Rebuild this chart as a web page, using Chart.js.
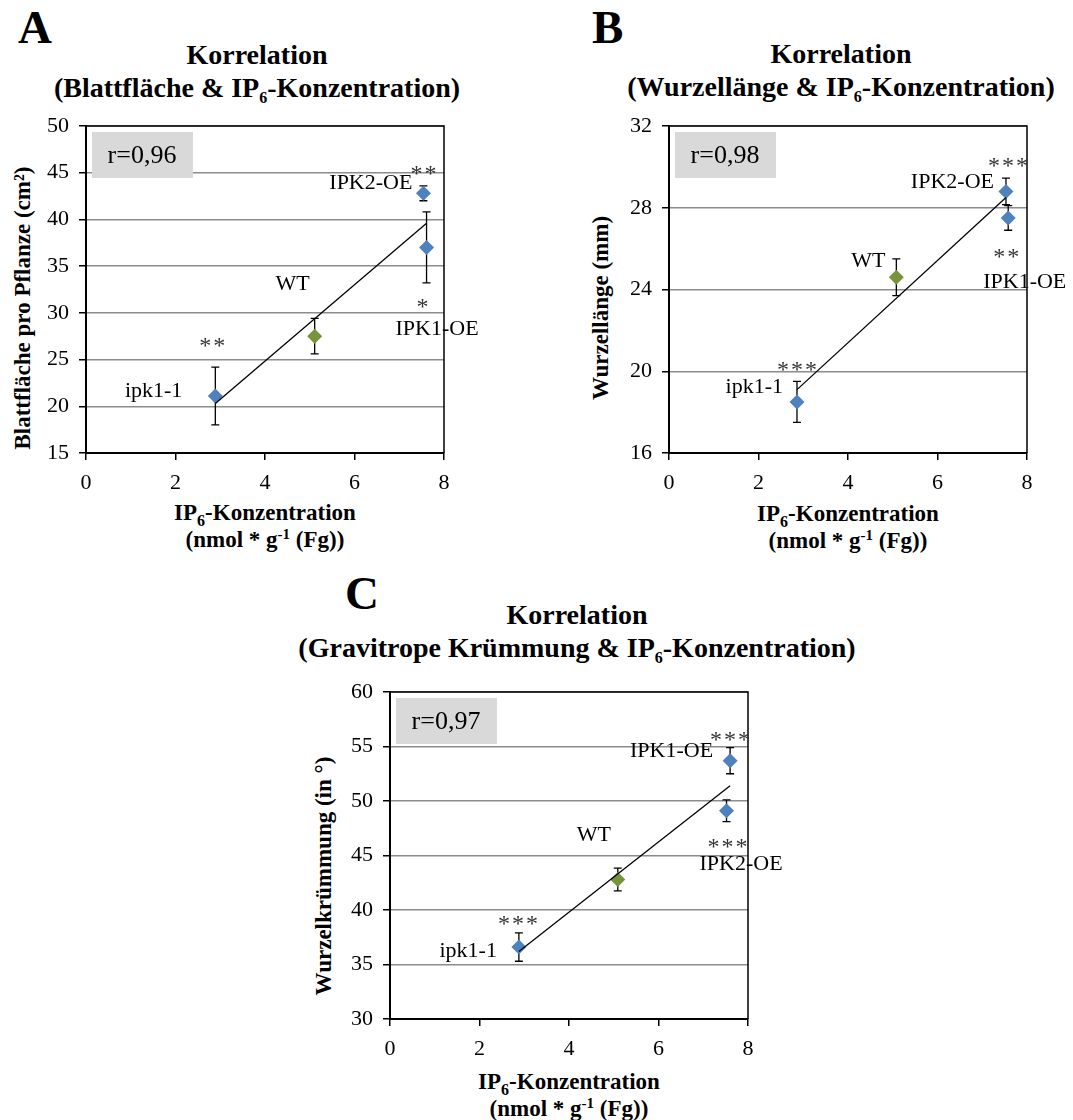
<!DOCTYPE html>
<html>
<head>
<meta charset="utf-8">
<script src="https://cdn.jsdelivr.net/npm/chart.js@4.4.0/dist/chart.umd.min.js"></script>
<style>
	body { margin: 0; background: #fff; }
	#page { position: relative; width: 1073px; height: 1120px; font-family: "Liberation Serif", "Times New Roman", serif; color: #000; }
	canvas { position: absolute; }
	.t { position: absolute; white-space: nowrap; font-weight: bold; }
	.title { font-size: 28px; line-height: 33px; text-align: center; transform: translateX(-50%); }
	.letter { font-size: 47px; line-height: 47px; }
	.xt { font-size: 23px; line-height: 25px; text-align: center; transform: translateX(-50%); }
	.yt { font-size: 23px; line-height: 23px; transform: translate(-50%, -50%) rotate(-90deg); }
	.sb { font-size: 16px; position: relative; top: 6px; }
	.sp { font-size: 15px; position: relative; top: -8px; }
</style>
</head>
<body>
<div id="page">
	<div class="t letter" style="left:18px;top:4px;">A</div>
	<div class="t letter" style="left:592px;top:4px;">B</div>
	<div class="t letter" style="left:345px;top:570px;">C</div>

	<div class="t title" style="left:257px;top:38px;">Korrelation<br>(Blattfläche &amp; IP<span class="sb">6</span>-Konzentration)</div>
	<div class="t title" style="left:841px;top:37px;">Korrelation<br>(Wurzellänge &amp; IP<span class="sb">6</span>-Konzentration)</div>
	<div class="t title" style="left:577px;top:598px;">Korrelation<br>(Gravitrope Krümmung &amp; IP<span class="sb">6</span>-Konzentration)</div>

	<div class="t yt" style="left:22px;top:308px;">Blattfläche pro Pflanze (cm²)</div>
	<div class="t yt" style="left:600px;top:308px;">Wurzellänge (mm)</div>
	<div class="t yt" style="left:323px;top:876px;">Wurzelkrümmung (in °)</div>

	<div class="t xt" style="left:265px;top:500px;">IP<span class="sb">6</span>-Konzentration<br>(nmol * g<span class="sp">-1</span> (Fg))</div>
	<div class="t xt" style="left:848px;top:501px;">IP<span class="sb">6</span>-Konzentration<br>(nmol * g<span class="sp">-1</span> (Fg))</div>
	<div class="t xt" style="left:569px;top:1069px;">IP<span class="sb">6</span>-Konzentration<br>(nmol * g<span class="sp">-1</span> (Fg))</div>

	<canvas id="chartA" width="500" height="400" style="left:0px;top:100px;"></canvas>
	<canvas id="chartB" width="490" height="400" style="left:583px;top:100px;"></canvas>
	<canvas id="chartC" width="500" height="400" style="left:304px;top:666px;"></canvas>
</div>

<script>
// Linien (gleiche Reihenfolge in allen Arrays)
const linienA = ['ipk1-1', 'WT', 'IPK2-OE', 'IPK1-OE'];
const ip6A = [2.89, 5.11, 7.54, 7.61];
const blattflaeche = [21.1, 27.5, 42.8, 37.0];
const blattflaecheSd = [3.1, 1.9, 0.8, 3.8];
const sternA = ['**', '', '**', '*'];
const trendA = [{ x: 2.89, y: 20.3 }, { x: 7.61, y: 39.6 }];

const linienB = ['ipk1-1', 'WT', 'IPK2-OE', 'IPK1-OE'];
const ip6B = [2.86, 5.08, 7.53, 7.58];
const wurzellaenge = [18.5, 24.6, 28.8, 27.5];
const wurzellaengeSd = [1.0, 0.9, 0.65, 0.6];
const sternB = ['***', '', '***', '**'];
const trendB = [{ x: 2.86, y: 19.1 }, { x: 7.53, y: 28.5 }];

const linienC = ['ipk1-1', 'WT', 'IPK1-OE', 'IPK2-OE'];
const ip6C = [2.88, 5.09, 7.6, 7.52];
const kruemmung = [36.6, 42.8, 53.7, 49.1];
const kruemmungSd = [1.3, 1.05, 1.2, 1.0];
const sternC = ['***', '', '***', '***'];
const trendC = [{ x: 2.88, y: 36.2 }, { x: 7.6, y: 51.4 }];

const xTicks = [0, 2, 4, 6, 8];
const yTicksA = [15, 20, 25, 30, 35, 40, 45, 50];
const yTicksB = [16, 20, 24, 28, 32];
const yTicksC = [30, 35, 40, 45, 50, 55, 60];

const serif = '"Liberation Serif", "Times New Roman", serif';

const makeChart = (id, cfg) => {
	const pts = cfg.x.map((x, i) => ({ x: x, y: cfg.y[i], sd: cfg.sd[i], name: cfg.names[i], stars: cfg.stars[i], lab: cfg.lab[i] }));

	const extras = {
		id: 'extras',
		beforeDatasetsDraw(chart) {
			const ctx = chart.ctx;
			const sx = chart.scales.x, sy = chart.scales.y;
			ctx.save();
			ctx.strokeStyle = '#000';
			ctx.lineWidth = 1.3;
			pts.forEach(p => {
				const px = sx.getPixelForValue(p.x);
				const top = sy.getPixelForValue(p.y + p.sd);
				const bot = sy.getPixelForValue(p.y - p.sd);
				ctx.beginPath();
				ctx.moveTo(px, top); ctx.lineTo(px, bot);
				ctx.moveTo(px - 4, top); ctx.lineTo(px + 4, top);
				ctx.moveTo(px - 4, bot); ctx.lineTo(px + 4, bot);
				ctx.stroke();
			});
			ctx.restore();
		},
		afterDraw(chart) {
			const ctx = chart.ctx;
			const a = chart.chartArea;
			const sx = chart.scales.x, sy = chart.scales.y;
			ctx.save();
			// Rahmen oben / rechts
			ctx.strokeStyle = '#000';
			ctx.lineWidth = 1.5;
			ctx.beginPath();
			ctx.moveTo(a.left, a.top); ctx.lineTo(a.right, a.top); ctx.lineTo(a.right, a.bottom);
			ctx.stroke();
			// r-Kasten
			ctx.fillStyle = '#d9d9d9';
			ctx.fillRect(a.left + 6, a.top + 6, 101, 46);
			ctx.fillStyle = '#000';
			ctx.font = '26px ' + serif;
			ctx.textAlign = 'center';
			ctx.textBaseline = 'middle';
			ctx.fillText(cfg.r, a.left + 56, a.top + 30);
			// Beschriftungen und Sterne
			pts.forEach(p => {
				const px = sx.getPixelForValue(p.x);
				const py = sy.getPixelForValue(p.y);
				const l = p.lab;
				ctx.font = '22px ' + serif;
				ctx.textAlign = l.align;
				ctx.textBaseline = 'middle';
				ctx.fillStyle = '#000';
				ctx.fillText(p.name, px + l.dx, py + l.dy);
				if (p.stars) {
					ctx.font = '24px ' + serif;
					ctx.fillStyle = '#333';
					ctx.textAlign = 'center';
					ctx.letterSpacing = '2px';
					ctx.fillText(p.stars, px + l.sx + 1, py + l.sy + 6);
					ctx.letterSpacing = '0px';
				}
			});
			ctx.restore();
		}
	};

	const blue = pts.filter(p => p.name !== 'WT');
	const green = pts.filter(p => p.name === 'WT');

	return new Chart(document.getElementById(id), {
		type: 'scatter',
		data: {
			datasets: [{
				label: 'Trend',
				type: 'line',
				data: cfg.trend,
				borderColor: '#000',
				borderWidth: 1.3,
				pointRadius: 0,
				order: 0
			}, {
				label: 'Mutanten',
				data: blue,
				pointStyle: 'rectRot',
				pointRadius: 7.5,
				backgroundColor: '#4f81bd',
				borderColor: '#4f81bd',
				borderWidth: 0,
				order: 1
			}, {
				label: 'WT',
				data: green,
				pointStyle: 'rectRot',
				pointRadius: 7.5,
				backgroundColor: '#77933c',
				borderColor: '#77933c',
				borderWidth: 0,
				order: 1
			}]
		},
		options: {
			responsive: false,
			animation: false,
			events: [],
			layout: { padding: { top: 26, right: id === 'chartB' ? 46 : 56, left: 0, bottom: 0 } },
			plugins: { legend: { display: false }, tooltip: { enabled: false } },
			scales: {
				x: {
					type: 'linear',
					min: 0,
					max: 8,
					afterFit: s => { s.height = 47; },
					afterBuildTicks: s => { s.ticks = xTicks.map(v => ({ value: v })); },
					ticks: { color: '#000', font: { family: serif, size: 22 }, padding: 10 },
					grid: { drawOnChartArea: false, drawTicks: true, tickLength: 7, color: '#000', lineWidth: 1.5 },
					border: { color: '#000', width: 2 }
				},
				y: {
					min: cfg.yTicks[0],
					max: cfg.yTicks[cfg.yTicks.length - 1],
					afterFit: s => { s.width = 86; },
					afterBuildTicks: s => { s.ticks = cfg.yTicks.map(v => ({ value: v })); },
					ticks: { color: '#000', font: { family: serif, size: 22 }, padding: 10 },
					grid: { color: '#8c8c8c', lineWidth: 1.5, tickColor: '#000', tickLength: 7 },
					border: { color: '#000', width: 2 }
				}
			}
		},
		plugins: [extras]
	});
};

const drawAll = () => {
	makeChart('chartA', {
		names: linienA, x: ip6A, y: blattflaeche, sd: blattflaecheSd, stars: sternA, trend: trendA, yTicks: yTicksA, r: 'r=0,96',
		lab: [
			{ dx: -33, dy: -5, align: 'right', sx: -3, sy: -55 },
			{ dx: -22, dy: -52, align: 'center' },
			{ dx: -11, dy: -10, align: 'right', sx: 0, sy: -25 },
			{ dx: -31, dy: 82, align: 'left', sx: -4, sy: 54 }
		]
	});

	makeChart('chartB', {
		names: linienB, x: ip6B, y: wurzellaenge, sd: wurzellaengeSd, stars: sternB, trend: trendB, yTicks: yTicksB, r: 'r=0,98',
		lab: [
			{ dx: -14, dy: -15, align: 'right', sx: 0, sy: -37 },
			{ dx: -11, dy: -16, align: 'right' },
			{ dx: -12, dy: -9, align: 'right', sx: 2, sy: -31 },
			{ dx: -25, dy: 64, align: 'left', sx: -2, sy: 34 }
		]
	});

	makeChart('chartC', {
		names: linienC, x: ip6C, y: kruemmung, sd: kruemmungSd, stars: sternC, trend: trendC, yTicks: yTicksC, r: 'r=0,97',
		lab: [
			{ dx: -22, dy: 4, align: 'right', sx: -1, sy: -28 },
			{ dx: -24, dy: -44, align: 'center' },
			{ dx: -17, dy: -9, align: 'right', sx: 0, sy: -26 },
			{ dx: -27, dy: 53, align: 'left', sx: 1, sy: 31 }
		]
	});
};

document.fonts.load('22px "Liberation Serif"').then(drawAll, drawAll);
</script>
</body>
</html>
